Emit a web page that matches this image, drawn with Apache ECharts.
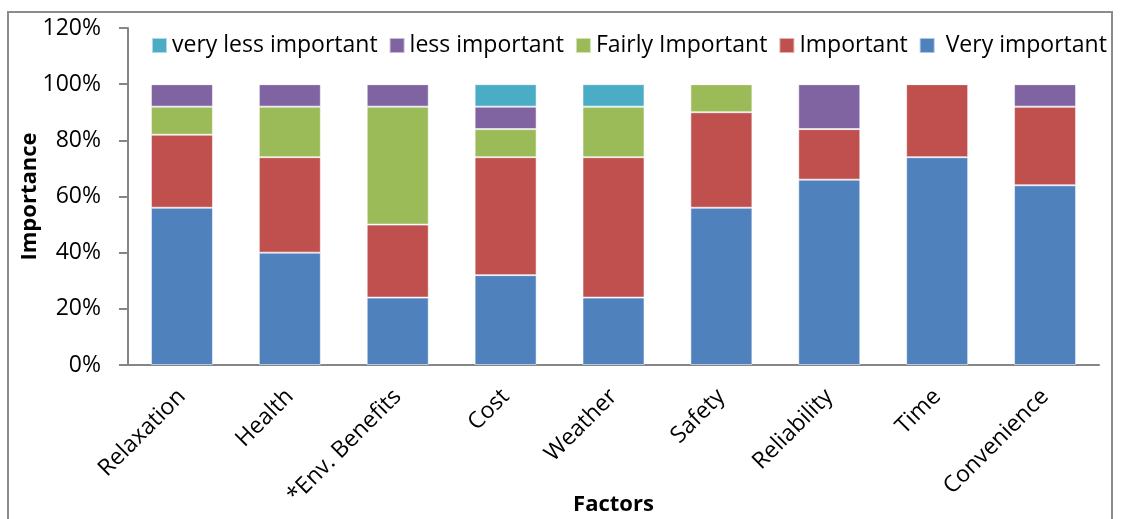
<!DOCTYPE html>
<html>
<head>
<meta charset="utf-8">
<script src="https://cdn.jsdelivr.net/npm/echarts@6/dist/echarts.min.js"></script>
<style>
  html, body { margin: 0; padding: 0; background: #fff; }
  #chart { width: 1123px; height: 519px; }
</style>
</head>
<body>
<div id="chart"></div>
<script>
// Factors and the share of respondents rating each importance level (%)
const factors = ['Relaxation', 'Health', '*Env. Benefits', 'Cost', 'Weather', 'Safety', 'Reliability', 'Time', 'Convenience'];
const veryImportant     = [56, 40, 24, 32, 24, 56, 66, 74, 64];
const important         = [26, 34, 26, 42, 50, 34, 18, 26, 28];
const fairlyImportant   = [10, 18, 42, 10, 18, 10,  0,  0,  0];
const lessImportant     = [ 8,  8,  8,  8,  0,  0, 16,  0,  8];
const veryLessImportant = [ 0,  0,  0,  8,  8,  0,  0,  0,  0];
const legendOrder = ['very less important', 'less important', 'Fairly Important', 'Important', 'Very important'];

const FONT = 'Open Sans';
const TXT = '#000';
const FS = 23;

function seg(name, data, color) {
  return {
    name: name,
    type: 'bar',
    stack: 'total',
    data: data,
    barWidth: 62,
    itemStyle: { color: color, borderColor: 'rgba(255,255,255,0.55)', borderWidth: 1 }
  };
}

const chart = echarts.init(document.getElementById('chart'), null, { renderer: 'canvas' });
chart.setOption({
  animation: false,
  textStyle: { fontFamily: FONT },
  graphic: [{
    type: 'rect',
    shape: { x: 8, y: 12, width: 1104, height: 530 },
    style: { fill: 'none', stroke: '#8c8c8c', lineWidth: 2 },
    silent: true
  }],
  legend: {
    data: legendOrder,
    top: 29,
    left: 146,
    itemWidth: 15,
    itemHeight: 15,
    itemGap: 11,
    icon: 'rect',
    formatter: function (name) { return name === 'Very important' ? ' ' + name : name; },
    textStyle: { fontFamily: FONT, fontSize: FS, color: TXT }
  },
  grid: { left: 128, right: 24, top: 28, bottom: 154, containLabel: false, outerBoundsMode: 'none' },
  xAxis: {
    type: 'category',
    data: factors,
    name: 'Factors',
    nameLocation: 'middle',
    nameGap: 129,
    nameMoveOverlap: false,
    nameTextStyle: { fontFamily: FONT, fontSize: 22, fontWeight: 'bold', color: TXT },
    axisLine: { lineStyle: { color: '#868686', width: 2 } },
    axisTick: { show: false },
    axisLabel: { rotate: 45, margin: 28, fontFamily: FONT, fontSize: FS, color: TXT, interval: 0 }
  },
  yAxis: {
    type: 'value',
    min: 0,
    max: 120,
    interval: 20,
    name: 'Importance',
    nameLocation: 'middle',
    nameGap: 87,
    nameMoveOverlap: false,
    nameTextStyle: { fontFamily: FONT, fontSize: 22, fontWeight: 'bold', color: TXT },
    axisLine: { show: true, lineStyle: { color: '#868686', width: 2 } },
    axisTick: { show: true, inside: false, length: 9, lineStyle: { color: '#868686', width: 2 } },
    splitLine: { show: false },
    axisLabel: { formatter: '{value}%', margin: 27, fontFamily: FONT, fontSize: FS, color: TXT }
  },
  series: [
    seg('Very important', veryImportant, '#4F81BD'),
    seg('Important', important, '#C0504D'),
    seg('Fairly Important', fairlyImportant, '#9BBB59'),
    seg('less important', lessImportant, '#8064A2'),
    seg('very less important', veryLessImportant, '#4BACC6')
  ]
});
</script>
</body>
</html>
